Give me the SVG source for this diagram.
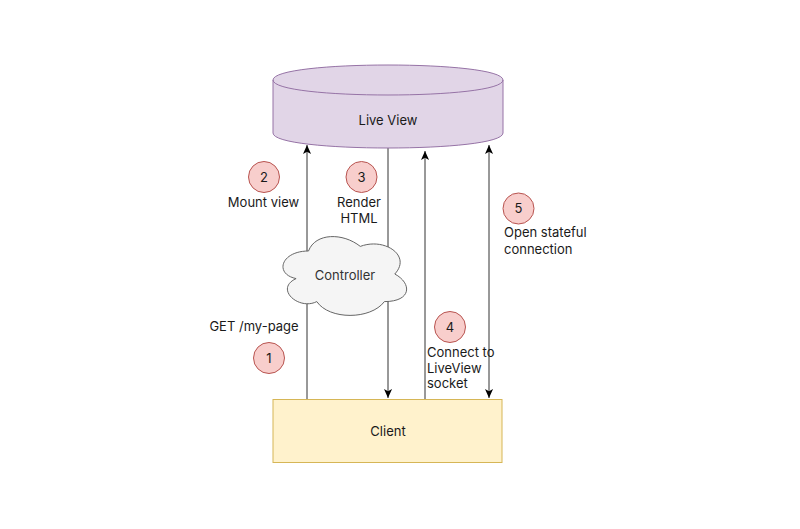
<svg xmlns="http://www.w3.org/2000/svg" width="800" height="529" viewBox="0 0 800 529">
<defs>
<marker id="arr" viewBox="0 0 10 10" refX="10" refY="5" markerUnits="userSpaceOnUse" markerWidth="9" markerHeight="9" orient="auto-start-reverse">
<path d="M0,0.5 L10,5 L0,9.5 L2.5,5 Z" fill="#000"/>
</marker>
<style>
text{font-family:Inter,"Liberation Sans",Arial,sans-serif;font-size:13px;fill:#1a1a1a}
.c{text-anchor:middle}
.badge circle{fill:#f8cecc;stroke:#b85450;stroke-width:1}
.edge{stroke:#333;stroke-width:1;fill:none}
</style>
</defs>
<rect width="800" height="529" fill="#fff"/>
<g id="connectors">
<line class="edge" x1="307" y1="399" x2="307" y2="145" marker-end="url(#arr)"/>
<line class="edge" x1="388" y1="148" x2="388" y2="398" marker-end="url(#arr)"/>
<line class="edge" x1="425" y1="399" x2="425" y2="151" marker-end="url(#arr)"/>
<line class="edge" x1="489" y1="145" x2="489" y2="398" marker-start="url(#arr)" marker-end="url(#arr)"/>
</g>
<g id="liveview">
<path d="M273,80 C273,60 503,60 503,80 L503,133 C503,153 273,153 273,133 Z" fill="#e1d5e7" stroke="#9673a6"/>
<path d="M273,80 C273,100 503,100 503,80" fill="none" stroke="#9673a6"/>
<text class="c" x="388" y="125">Live View</text>
</g>
<g id="client">
<rect x="273" y="399.5" width="229" height="63" fill="#fff2cc" stroke="#d6b656"/>
<text class="c" x="388" y="436">Client</text>
</g>
<g id="controller">
<path d="M308.5,251 C280.9,251 274,274 296.1,278.6 C274,288.7 298.8,310.8 316.8,301.6 C329.2,320 370.6,320 384.4,301.6 C412,301.6 412,283.2 394.8,274 C412,255.6 384.4,237.2 360.3,246.4 C343,232.6 315.4,232.6 308.5,251 Z" fill="#f5f5f5" stroke="#666"/>
<text class="c" x="345" y="280" style="fill:#333">Controller</text>
</g>
<g id="step1" class="badge">
<circle cx="269" cy="358" r="15.5"/>
<text class="c" x="269" y="362.5">1</text>
</g>
<g id="step2" class="badge">
<circle cx="264" cy="177" r="15.5"/>
<text class="c" x="264" y="181.5">2</text>
</g>
<g id="step3" class="badge">
<circle cx="361.5" cy="177" r="15.5"/>
<text class="c" x="361.5" y="181.5">3</text>
</g>
<g id="step4" class="badge">
<circle cx="450" cy="327" r="15.5"/>
<text class="c" x="450" y="331.5">4</text>
</g>
<g id="step5" class="badge">
<circle cx="518.5" cy="208.5" r="15.5"/>
<text class="c" x="518.5" y="213">5</text>
</g>
<g id="labels">
<text class="c" x="263.5" y="206.5">Mount view</text>
<text class="c" x="359" y="206.5">Render</text>
<text class="c" x="359" y="222.5">HTML</text>
<text class="c" x="254" y="331">GET /my-page</text>
<text x="427" y="357">Connect to</text>
<text x="427" y="372.5">LiveView</text>
<text x="427" y="388">socket</text>
<text x="504" y="237">Open stateful</text>
<text x="504" y="253.5">connection</text>
</g>
</svg>
